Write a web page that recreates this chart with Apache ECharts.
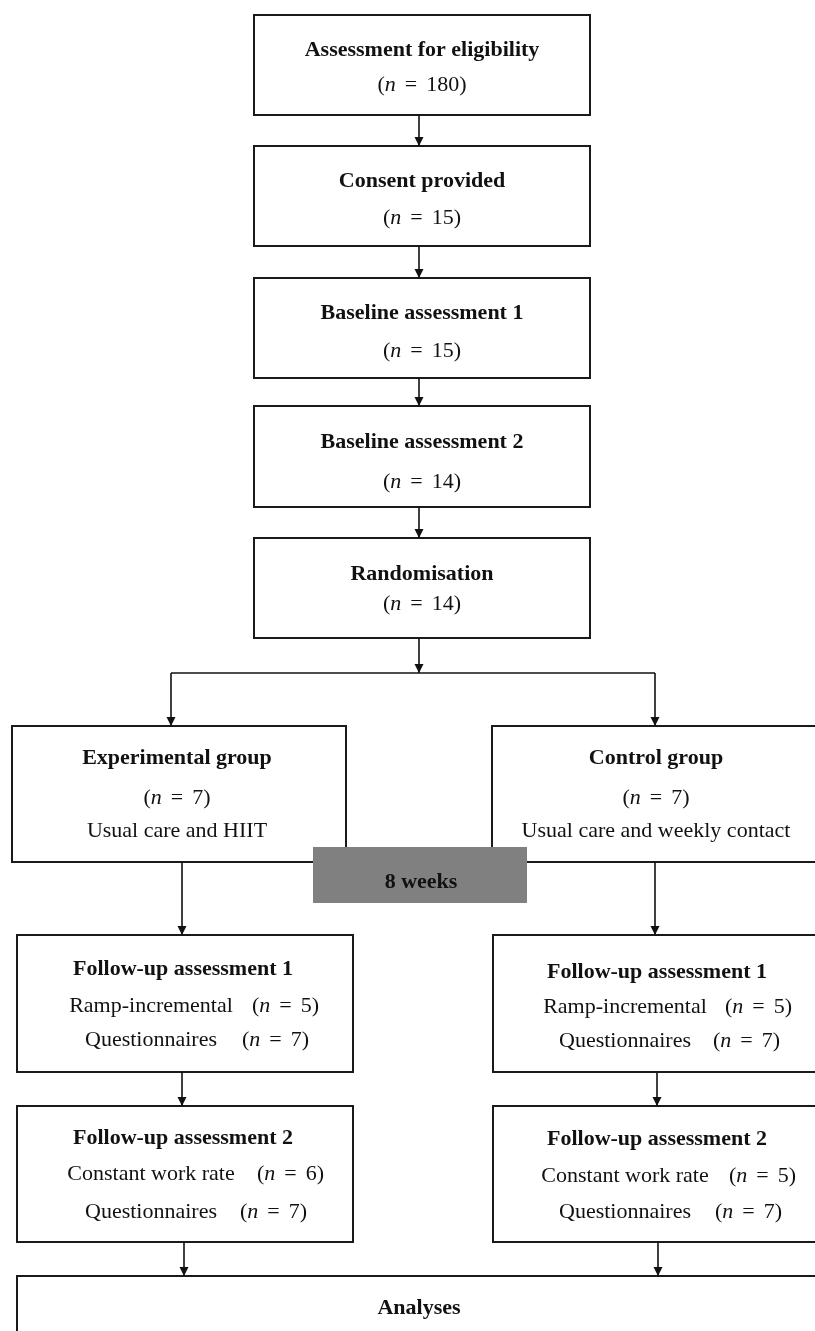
<!DOCTYPE html>
<html>
<head>
<meta charset="utf-8">
<title>Study flow</title>
<script src="https://cdn.jsdelivr.net/npm/echarts@6/dist/echarts.min.js"></script>
<style>
  html, body { margin: 0; padding: 0; background: #fff; }
  #main { width: 815px; height: 1331px; }
</style>
</head>
<body>
<div id="main"></div>
<script>
// what the flow says
const stageTitles = ['Assessment for eligibility', 'Consent provided', 'Baseline assessment 1', 'Baseline assessment 2', 'Randomisation'];
const stageN = [180, 15, 15, 14, 14];
const groupTitles = ['Experimental group', 'Control group'];
const groupN = [7, 7];
const groupDesc = ['Usual care and HIIT', 'Usual care and weekly contact'];
const followUpTitles = ['Follow-up assessment 1', 'Follow-up assessment 2'];
const followUpTests = ['Ramp-incremental', 'Constant work rate'];
const testN = [[5, 5], [6, 5]];          // [assessment][group]
const questionnaireLabel = 'Questionnaires';
const questionnaireN = [[7, 7], [7, 7]];
const periodLabel = '8 weeks';
const finalLabel = 'Analyses';

// layout in page pixels (the hidden axes run 0..815 and 0..1331)
const stageX = [254, 590];
const stageY = [[15, 115], [146, 246], [278, 378], [406, 507], [538, 638]];
const stageTextY = [[50, 85], [181, 218], [313, 351], [442, 482], [574, 604]];
const stageTextX = 422;
const groupBoxX = [[12, 346], [492, 830]];
const groupBoxY = [726, 862];
const groupTextX = [177, 656];
const groupTextY = [758, 798, 831];
const fuBoxX = [[17, 353], [493, 830]];
const fuBoxY = [[935, 1072], [1106, 1242]];
const fuTitleX = [183, 657];
const fuLabelX = [151, 625];
const fuCountX = [[[252, 242], [725, 713]], [[257, 240], [729, 715]]];
const fuTextY = [[[969, 1006, 1040], [972, 1007, 1041]], [[1138, 1174, 1212], [1139, 1176, 1212]]];
const finalBox = [17, 1276, 830, 1360];
const periodBox = [313, 847, 527, 903];

const serif = "'Liberation Serif', 'Times New Roman', serif";
const FS = 22;

// boxes: x0, y0, x1, y1, gray?
const boxes = [];
stageY.forEach(function (y) { boxes.push([stageX[0], y[0], stageX[1], y[1], 0]); });
groupBoxX.forEach(function (x) { boxes.push([x[0], groupBoxY[0], x[1], groupBoxY[1], 0]); });
fuBoxY.forEach(function (y) {
  fuBoxX.forEach(function (x) { boxes.push([x[0], y[0], x[1], y[1], 0]); });
});
boxes.push([finalBox[0], finalBox[1], finalBox[2], finalBox[3], 0]);
const grayBoxes = [[periodBox[0], periodBox[1], periodBox[2], periodBox[3], 1]];

// connectors: x0, y0, x1, y1, arrow?
const connectors = [
  [419, 115, 419, 146, 1],
  [419, 246, 419, 278, 1],
  [419, 378, 419, 406, 1],
  [419, 507, 419, 538, 1],
  [419, 638, 419, 673, 1],
  [171, 673, 655, 673, 0],
  [171, 673, 171, 726, 1],
  [655, 673, 655, 726, 1],
  [182, 862, 182, 935, 1],
  [655, 862, 655, 935, 1],
  [182, 1072, 182, 1106, 1],
  [657, 1073, 657, 1106, 1],
  [184, 1242, 184, 1276, 1],
  [658, 1243, 658, 1276, 1]
];

// "(n = 7)" with an italic n and a bit of air round the "="
function nText(v) { return '{r|(}{i|n}{e|=}{r|' + v + ')}'; }

// text labels: x, y, rich text, align
const labels = [];
stageTitles.forEach(function (t, i) {
  labels.push({ x: stageTextX, y: stageTextY[i][0], text: '{b|' + t + '}', align: 'center' });
  labels.push({ x: stageTextX, y: stageTextY[i][1], text: nText(stageN[i]), align: 'center' });
});
groupTitles.forEach(function (t, g) {
  labels.push({ x: groupTextX[g], y: groupTextY[0], text: '{b|' + t + '}', align: 'center' });
  labels.push({ x: groupTextX[g], y: groupTextY[1], text: nText(groupN[g]), align: 'center' });
  labels.push({ x: groupTextX[g], y: groupTextY[2], text: '{r|' + groupDesc[g] + '}', align: 'center' });
});
followUpTitles.forEach(function (t, a) {
  [0, 1].forEach(function (g) {
    const ys = fuTextY[a][g];
    labels.push({ x: fuTitleX[g], y: ys[0], text: '{b|' + t + '}', align: 'center' });
    labels.push({ x: fuLabelX[g], y: ys[1], text: '{r|' + followUpTests[a] + '}', align: 'center' });
    labels.push({ x: fuCountX[a][g][0], y: ys[1], text: nText(testN[a][g]), align: 'left' });
    labels.push({ x: fuLabelX[g], y: ys[2], text: '{r|' + questionnaireLabel + '}', align: 'center' });
    labels.push({ x: fuCountX[a][g][1], y: ys[2], text: nText(questionnaireN[a][g]), align: 'left' });
  });
});
labels.push({ x: 421, y: 882, text: '{b|' + periodLabel + '}', align: 'center' });
labels.push({ x: 419, y: 1308, text: '{b|' + finalLabel + '}', align: 'center' });

const rich = {
  r: { fontFamily: serif, fontSize: FS, fill: '#111' },
  b: { fontFamily: serif, fontSize: FS, fontWeight: 'bold', fill: '#111' },
  i: { fontFamily: serif, fontSize: FS, fontStyle: 'italic', fill: '#111' },
  e: { fontFamily: serif, fontSize: FS, fill: '#111', padding: [0, 9, 0, 9] }
};

function renderBox(params, api) {
  const p0 = api.coord([api.value(0), api.value(1)]);
  const p1 = api.coord([api.value(2), api.value(3)]);
  const gray = api.value(4) === 1;
  return {
    type: 'rect',
    shape: { x: p0[0], y: p0[1], width: p1[0] - p0[0], height: p1[1] - p0[1] },
    style: gray ? { fill: '#808080', stroke: null } : { fill: '#fff', stroke: '#1a1a1a', lineWidth: 2 }
  };
}

function renderConnector(params, api) {
  const p0 = api.coord([api.value(0), api.value(1)]);
  const p1 = api.coord([api.value(2), api.value(3)]);
  const children = [{
    type: 'line',
    shape: { x1: p0[0], y1: p0[1], x2: p1[0], y2: p1[1] },
    style: { stroke: '#111', lineWidth: 1.6 }
  }];
  if (api.value(4) === 1) {
    children.push({
      type: 'polygon',
      shape: { points: [[p1[0], p1[1]], [p1[0] - 4.5, p1[1] - 9], [p1[0] + 4.5, p1[1] - 9]] },
      style: { fill: '#111' }
    });
  }
  return { type: 'group', children: children };
}

function renderLabel(params, api) {
  const l = labels[params.dataIndex];
  const p = api.coord([api.value(0), api.value(1)]);
  return {
    type: 'text',
    x: p[0],
    y: p[1],
    style: {
      text: l.text,
      rich: rich,
      fontFamily: serif,
      fontSize: FS,
      align: l.align,
      verticalAlign: 'middle'
    }
  };
}

const myChart = echarts.init(document.getElementById('main'));
myChart.setOption({
  animation: false,
  grid: { left: 0, right: 0, top: 0, bottom: 0 },
  xAxis: { type: 'value', min: 0, max: 815, show: false },
  yAxis: { type: 'value', min: 0, max: 1331, inverse: true, show: false },
  series: [
    { type: 'custom', name: 'boxes', renderItem: renderBox, data: boxes, z: 1, silent: true },
    { type: 'custom', name: 'connectors', renderItem: renderConnector, data: connectors, z: 2, silent: true },
    { type: 'custom', name: 'period', renderItem: renderBox, data: grayBoxes, z: 3, silent: true },
    {
      type: 'custom', name: 'labels', renderItem: renderLabel, z: 4, silent: true,
      data: labels.map(function (l) { return [l.x, l.y]; })
    }
  ]
});
</script>
</body>
</html>
